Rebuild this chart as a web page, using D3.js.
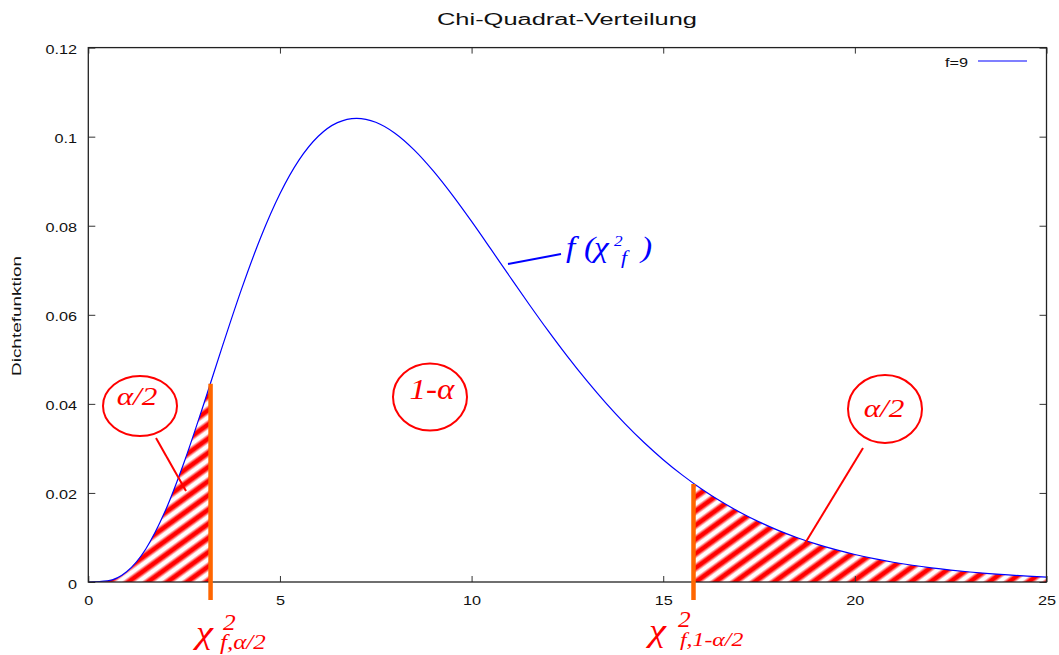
<!DOCTYPE html>
<html>
<head>
<meta charset="utf-8">
<script src="https://cdn.jsdelivr.net/npm/d3@7"></script>
<style>
  body { margin: 0; background: #fff; }
  svg { display: block; }
</style>
</head>
<body>
<svg id="chart"></svg>
<script>
// --- data ---
const xValues = [0, 0.5, 1, 1.5, 2, 2.5, 3, 3.5, 4, 4.5, 5, 5.5, 6, 6.5, 7, 7.5, 8, 8.5, 9, 9.5,
  10, 10.5, 11, 11.5, 12, 12.5, 13, 13.5, 14, 14.5, 15, 15.5, 16, 16.5, 17, 17.5, 18, 18.5, 19, 19.5,
  20, 20.5, 21, 21.5, 22, 22.5, 23, 23.5, 24, 24.5, 25];
const density = [0, 0.000262, 0.002304, 0.007419, 0.015814, 0.026893, 0.039647, 0.052958, 0.065819, 0.077411,
  0.087173, 0.094776, 0.100088, 0.103150, 0.104121, 0.103240, 0.100779, 0.097040, 0.092310, 0.086868,
  0.080957, 0.074790, 0.068547, 0.062372, 0.056377, 0.050651, 0.045249, 0.040217, 0.035573, 0.031324,
  0.027469, 0.023994, 0.020883, 0.018113, 0.015661, 0.013499, 0.011602, 0.009945, 0.008503, 0.007253,
  0.006172, 0.005240, 0.004440, 0.003755, 0.003169, 0.002670, 0.002246, 0.001886, 0.001581, 0.001323,
  0.001106];
const xTicks = [0, 5, 10, 15, 20, 25];
const xTickLabels = ["0", "5", "10", "15", "20", "25"];
const yTicks = [0, 0.02, 0.04, 0.06, 0.08, 0.1, 0.12];
const yTickLabels = ["0", "0.02", "0.04", "0.06", "0.08", "0.1", "0.12"];
const critValues = [3.19, 15.79];      // Quantile
const critHeights = [0.0445, 0.022];   // Höhe der orangen Linien
const tailRanges = [[0, 3.19], [15.79, 25]];
const seriesName = "f=9";

// --- Layout ---
const width = 1059, height = 655;
const plotLeft = 88.3, plotRight = 1046.5, plotTop = 47.6, plotBottom = 582;
const sansFont = "Liberation Sans";
const serifFont = "Liberation Serif";
const stretch = 1.3; // Text ist im Original horizontal gestreckt

const svg = d3.select("#chart").attr("width", width).attr("height", height);

const x = d3.scaleLinear().domain([0, 25]).range([plotLeft, plotRight]);
const y = d3.scaleLinear().domain([0, 0.12]).range([plotBottom, plotTop]);

const points = xValues.map((v, i) => [v, density[i]]);

// Schraffur-Muster
const defs = svg.append("defs");
const grad = defs.append("linearGradient").attr("id", "stripeGrad")
  .attr("x1", 0).attr("y1", 0).attr("x2", 0).attr("y2", 1);
[[0, "#fff"], [0.12, "#fff"], [0.38, "#f00"], [0.62, "#f00"], [0.88, "#fff"], [1, "#fff"]]
  .forEach(s => grad.append("stop").attr("offset", s[0]).attr("stop-color", s[1]));
const period = 11.5;
defs.append("pattern").attr("id", "hatch")
  .attr("patternUnits", "userSpaceOnUse")
  .attr("width", period).attr("height", period)
  .attr("patternTransform", "rotate(-36)")
  .append("rect").attr("width", period).attr("height", period).attr("fill", "url(#stripeGrad)");

tailRanges.forEach((r, i) => {
  defs.append("clipPath").attr("id", "tail" + i)
    .append("rect")
    .attr("x", x(r[0])).attr("y", plotTop)
    .attr("width", x(r[1]) - x(r[0])).attr("height", plotBottom - plotTop);
});
defs.append("clipPath").attr("id", "plotClip")
  .append("rect").attr("x", plotLeft).attr("y", plotTop)
  .attr("width", plotRight - plotLeft).attr("height", plotBottom - plotTop);

// schraffierte Flächen
const area = d3.area().x(d => x(d[0])).y0(y(0)).y1(d => y(d[1])).curve(d3.curveMonotoneX);
tailRanges.forEach((r, i) => {
  svg.append("path")
    .datum(points)
    .attr("d", area)
    .attr("fill", "url(#hatch)")
    .attr("clip-path", `url(#tail${i})`);
});

// Dichtekurve
const line = d3.line().x(d => x(d[0])).y(d => y(d[1])).curve(d3.curveMonotoneX);
svg.append("path")
  .datum(points)
  .attr("d", line)
  .attr("fill", "none")
  .attr("stroke", "#0000ff")
  .attr("stroke-width", 1.2)
  .attr("clip-path", "url(#plotClip)");

// Achsen (Ticks nach innen, gnuplot-Stil)
function styleAxis(g) {
  g.attr("font-family", sansFont).attr("font-size", 12.5);
  g.select(".domain").remove();
  g.selectAll(".tick line").attr("stroke", "#333").attr("stroke-width", 1);
  g.selectAll(".tick text").attr("fill", "#111");
}

svg.append("g")
  .attr("transform", `translate(${plotLeft},0)`)
  .call(d3.axisLeft(y).tickValues(yTicks).tickFormat((d, i) => yTickLabels[i]).tickSize(-7).tickPadding(8.7))
  .call(styleAxis)
  .call(g => g.selectAll(".tick text").attr("dy", "0.48em").attr("transform", `scale(${stretch},1)`));

svg.append("g")
  .attr("transform", `translate(0,${plotBottom})`)
  .call(d3.axisBottom(x).tickValues(xTicks).tickFormat((d, i) => xTickLabels[i]).tickSize(-6).tickPadding(14))
  .call(styleAxis)
  .call(g => g.selectAll(".tick text").attr("transform", `scale(${stretch},1)`));

svg.append("g")
  .attr("transform", `translate(0,${plotTop})`)
  .call(d3.axisTop(x).tickValues(xTicks).tickFormat("").tickSize(-6))
  .call(styleAxis);

svg.append("g")
  .attr("transform", `translate(${plotRight},0)`)
  .call(d3.axisRight(y).tickValues(yTicks).tickFormat("").tickSize(-7))
  .call(styleAxis);

// Rahmen
svg.append("rect")
  .attr("x", plotLeft).attr("y", plotTop)
  .attr("width", plotRight - plotLeft).attr("height", plotBottom - plotTop)
  .attr("fill", "none").attr("stroke", "#222").attr("stroke-width", 1.3);

// orange Quantil-Linien
svg.selectAll(".crit")
  .data(critValues)
  .enter()
  .append("line")
  .attr("class", "crit")
  .attr("x1", d => x(d)).attr("x2", d => x(d))
  .attr("y1", plotBottom + 18)
  .attr("y2", (d, i) => y(critHeights[i]))
  .attr("stroke", "#ff6600")
  .attr("stroke-width", 4.5);

// Hilfsfunktion: Text horizontal strecken über textLength (ohne transform)
function label(px, py, str, opts) {
  const t = svg.append("text")
    .attr("x", px).attr("y", py)
    .attr("text-anchor", opts.anchor || "start")
    .attr("fill", opts.color || "#111")
    .attr("font-family", opts.serif ? serifFont : sansFont)
    .attr("font-style", opts.serif ? "italic" : "normal")
    .attr("font-size", opts.size)
    .text(str);
  const w = t.node().getComputedTextLength();
  t.attr("textLength", w * (opts.sx || stretch)).attr("lengthAdjust", "spacingAndGlyphs");
  return t;
}

// Titel
svg.append("text")
  .attr("x", 567).attr("y", 25)
  .attr("text-anchor", "middle")
  .attr("textLength", 260).attr("lengthAdjust", "spacingAndGlyphs")
  .attr("font-family", sansFont).attr("font-size", 16)
  .attr("fill", "#111")
  .text("Chi-Quadrat-Verteilung");

// Y-Achsentitel
svg.append("text")
  .attr("transform", "translate(21,316) rotate(-90)")
  .attr("text-anchor", "middle")
  .attr("textLength", 120).attr("lengthAdjust", "spacingAndGlyphs")
  .attr("font-family", sansFont).attr("font-size", 12.5)
  .attr("fill", "#111")
  .text("Dichtefunktion");

// Legende
label(968, 67, seriesName, { size: 12.5, anchor: "end" });
svg.append("line")
  .attr("x1", 978).attr("x2", 1027).attr("y1", 61).attr("y2", 61)
  .attr("stroke", "#0000ff").attr("stroke-width", 1.2);

// Kreise mit Beschriftung
const red = "#ff0000";
[[140, 406, 37, 30], [430, 397, 37, 33.5], [885, 409, 37, 34]].forEach(c => {
  svg.append("ellipse")
    .attr("cx", c[0]).attr("cy", c[1]).attr("rx", c[2]).attr("ry", c[3])
    .attr("fill", "none").attr("stroke", red).attr("stroke-width", 2);
});
label(137, 405, "α/2", { size: 26, anchor: "middle", color: red, serif: true, sx: 1.2 });
label(432, 399, "1-α", { size: 30, anchor: "middle", color: red, serif: true, sx: 1.1 });
label(884, 417, "α/2", { size: 26, anchor: "middle", color: red, serif: true, sx: 1.2 });

// Zeigerlinien
[[156, 438, 186, 491, red], [863, 448, 804, 545, red], [508, 264, 561, 254, "#0000ff"]].forEach(l => {
  svg.append("line")
    .attr("x1", l[0]).attr("y1", l[1]).attr("x2", l[2]).attr("y2", l[3])
    .attr("stroke", l[4]).attr("stroke-width", 2);
});

// f(χ²_f)
const blue = "#0000ff";
const bs = { color: blue, serif: true, sx: 1.15 };
label(566, 257, "f", { ...bs, size: 29 });
label(584, 257, "(", { ...bs, size: 29 });
label(594, 257, "χ", { ...bs, size: 29 });
label(614, 246, "2", { ...bs, size: 15 });
label(621, 264, "f", { ...bs, size: 19 });
label(641, 257, ")", { ...bs, size: 29 });

// Quantil-Beschriftungen unter der Achse
const rs = { color: red, serif: true };
label(196, 643, "χ", { ...rs, size: 32, sx: 1.2 });
label(223, 630, "2", { ...rs, size: 23, sx: 1.1 });
label(220, 649, "f,α/2", { ...rs, size: 20, sx: 1.25 });
label(649, 641, "χ", { ...rs, size: 32, sx: 1.2 });
label(678, 627, "2", { ...rs, size: 23, sx: 1.1 });
label(680, 646, "f,1-α/2", { ...rs, size: 19, sx: 1.25 });
</script>
</body>
</html>
